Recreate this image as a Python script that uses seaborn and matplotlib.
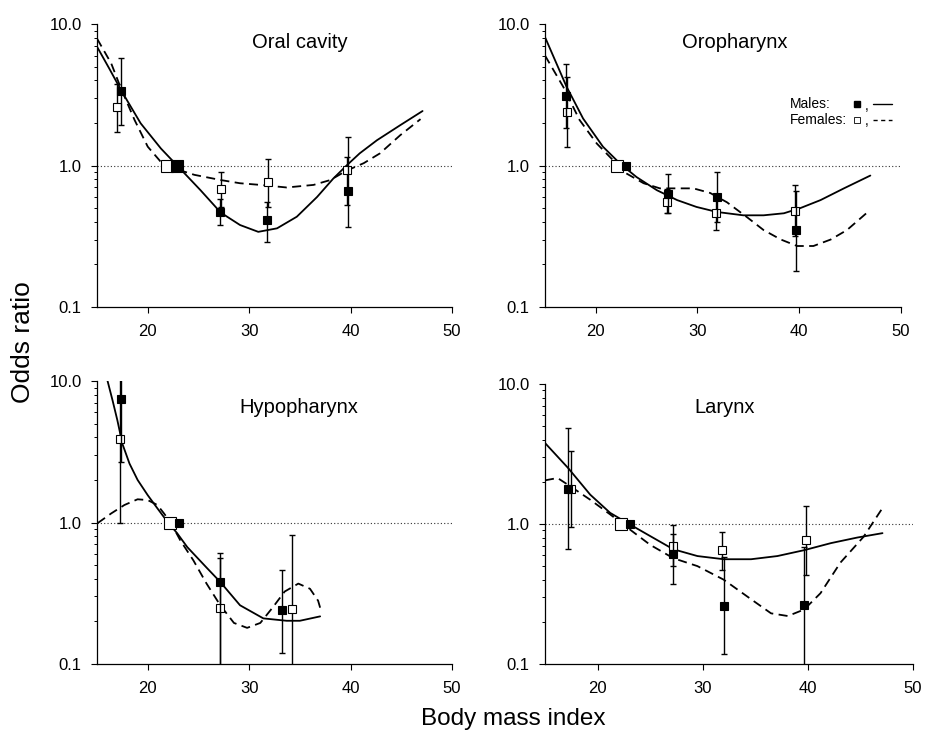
import numpy as np
import pandas as pd
import matplotlib.pyplot as plt
import matplotlib.ticker as mticker
import seaborn as sns

sns.set_style("ticks")
plt.rcParams['font.family'] = ['Liberation Sans', 'DejaVu Sans']
plt.rcParams.update({'text.color': 'black', 'axes.edgecolor': 'black',
                     'xtick.color': 'black', 'ytick.color': 'black',
                     'axes.labelcolor': 'black'})

# ---- Oral cavity ----
oral_m_bmi = [17.4, 27.1, 31.8, 39.7]
oral_m_or = [3.38, 0.47, 0.41, 0.66]
oral_m_lo = [1.93, 0.38, 0.29, 0.37]
oral_m_hi = [5.8, 0.58, 0.55, 1.6]
oral_f_bmi = [17.0, 27.2, 31.9, 39.6]
oral_f_or = [2.58, 0.68, 0.76, 0.93]
oral_f_lo = [1.72, 0.51, 0.51, 0.53]
oral_f_hi = [3.8, 0.90, 1.11, 1.15]
oral_ref = [22.85, 21.9]
oral_cm_bmi = [15.0, 16.2, 17.4, 19.3, 21.3, 22.9, 25.2, 27.2, 29.1, 30.9, 32.75, 34.7, 36.7, 38.3, 39.6, 40.9, 42.6, 44.9, 47.1]
oral_cm_or = [6.92, 4.86, 3.38, 1.99, 1.32, 1.0, 0.67, 0.465, 0.38, 0.34, 0.36, 0.435, 0.60, 0.81, 1.0, 1.22, 1.51, 1.93, 2.43]
oral_cf_bmi = [15.0, 16.4, 17.3, 18.7, 20.0, 21.3, 22.6, 24.6, 27.2, 29.1, 31.1, 33.7, 36.35, 38.0, 39.6, 41.3, 42.9, 44.9, 46.9]
oral_cf_or = [7.9, 5.27, 3.6, 2.10, 1.36, 1.06, 0.955, 0.86, 0.79, 0.75, 0.73, 0.70, 0.73, 0.79, 0.92, 1.04, 1.22, 1.64, 2.13]

# ---- Oropharynx ----
oro_m_bmi = [17.1, 27.1, 31.9, 39.7]
oro_m_or = [3.10, 0.63, 0.60, 0.35]
oro_m_lo = [1.83, 0.46, 0.40, 0.18]
oro_m_hi = [5.2, 0.87, 0.90, 0.66]
oro_f_bmi = [17.2, 27.0, 31.8, 39.6]
oro_f_or = [2.38, 0.55, 0.46, 0.48]
oro_f_lo = [1.36, 0.46, 0.35, 0.32]
oro_f_hi = [4.2, 0.68, 0.59, 0.73]
oro_ref = [22.96, 22.1]
oro_cm_bmi = [15.0, 17.1, 18.75, 20.7, 22.4, 24.0, 26.0, 28.0, 29.9, 31.9, 34.5, 36.5, 38.5, 40.1, 42.1, 44.4, 47.0]
oro_cm_or = [8.1, 3.64, 2.15, 1.36, 1.03, 0.83, 0.67, 0.57, 0.51, 0.47, 0.445, 0.445, 0.46, 0.50, 0.57, 0.69, 0.85]
oro_cf_bmi = [15.0, 16.8, 18.4, 20.1, 21.7, 23.0, 24.7, 26.3, 28.0, 29.6, 31.25, 32.9, 34.9, 36.5, 38.2, 39.8, 41.4, 43.1, 44.7, 46.9]
oro_cf_or = [6.0, 3.6, 2.1, 1.43, 1.09, 0.88, 0.75, 0.69, 0.69, 0.69, 0.64, 0.55, 0.43, 0.35, 0.30, 0.27, 0.27, 0.30, 0.35, 0.48]

# ---- Hypopharynx ----
hypo_m_bmi = [17.4, 27.15, 33.2]
hypo_m_or = [7.5, 0.38, 0.24]
hypo_m_lo = [2.7, 0.05, 0.12]
hypo_m_hi = [15.0, 0.61, 0.46]
hypo_f_bmi = [17.25, 27.15, 34.2]
hypo_f_or = [3.9, 0.25, 0.245]
hypo_f_lo = [1.0, 0.05, 0.05]
hypo_f_hi = [15.0, 0.56, 0.81]
hypo_ref = [23.1, 22.2]
hypo_cm_bmi = [15.8, 16.04, 16.53, 17.0, 17.5, 18.2, 19.0, 20.0, 20.95, 21.95, 22.9, 23.9, 25.8, 27.15, 29.1, 31.4, 33.7, 35.0, 37.0]
hypo_cm_or = [12.5, 10.0, 7.3, 5.3, 3.6, 2.61, 2.0, 1.56, 1.26, 1.01, 0.84, 0.67, 0.48, 0.38, 0.26, 0.21, 0.202, 0.202, 0.217]
hypo_cf_bmi = [15.06, 16.4, 17.7, 19.0, 20.0, 20.95, 21.6, 22.3, 23.2, 24.5, 25.8, 27.15, 28.5, 29.8, 31.1, 32.4, 33.5, 34.85, 36.0, 36.8, 37.0]
hypo_cf_or = [0.99, 1.16, 1.33, 1.46, 1.44, 1.33, 1.16, 0.99, 0.75, 0.54, 0.37, 0.26, 0.195, 0.18, 0.195, 0.255, 0.325, 0.37, 0.34, 0.28, 0.25]

# ---- Larynx ----
lar_m_bmi = [17.2, 27.2, 32.0, 39.65]
lar_m_or = [1.79, 0.61, 0.26, 0.265]
lar_m_lo = [0.66, 0.375, 0.118, 0.05]
lar_m_hi = [4.85, 0.85, 0.58, 0.69]
lar_f_bmi = [17.5, 27.2, 31.8, 39.8]
lar_f_or = [1.79, 0.70, 0.65, 0.77]
lar_f_lo = [0.95, 0.50, 0.47, 0.43]
lar_f_hi = [3.3, 0.99, 0.88, 1.35]
lar_ref = [23.1, 22.2]
lar_cm_bmi = [15.0, 17.2, 19.3, 21.2, 23.1, 25.0, 27.2, 29.5, 32.0, 34.6, 37.1, 39.65, 42.2, 44.7, 47.1]
lar_cm_or = [3.79, 2.51, 1.62, 1.20, 0.99, 0.82, 0.66, 0.59, 0.56, 0.56, 0.59, 0.65, 0.73, 0.80, 0.86]
lar_cf_bmi = [15.0, 16.2, 17.4, 19.3, 21.2, 23.1, 25.0, 27.2, 29.5, 32.0, 34.6, 36.5, 38.1, 39.65, 41.2, 43.1, 45.3, 47.1]
lar_cf_or = [2.05, 2.13, 1.86, 1.49, 1.17, 0.91, 0.71, 0.57, 0.50, 0.40, 0.29, 0.23, 0.22, 0.245, 0.32, 0.53, 0.81, 1.30]

x_ticks = [20, 30, 40, 50]
y_ticks = [0.1, 1.0, 10.0]
y_tick_labels = ["0.1", "1.0", "10.0"]

panels = [
    dict(title="Oral cavity", tpos=(35.0, 7.45), rect=[0.1039, 0.580, 0.380, 0.387],
         m=(oral_m_bmi, oral_m_or, oral_m_lo, oral_m_hi), f=(oral_f_bmi, oral_f_or, oral_f_lo, oral_f_hi),
         ref=oral_ref, ref_m_big=True,
         cm=(oral_cm_bmi, oral_cm_or), cf=(oral_cf_bmi, oral_cf_or)),
    dict(title="Oropharynx", tpos=(33.7, 7.45), rect=[0.5835, 0.580, 0.381, 0.387],
         m=(oro_m_bmi, oro_m_or, oro_m_lo, oro_m_hi), f=(oro_f_bmi, oro_f_or, oro_f_lo, oro_f_hi),
         ref=oro_ref, ref_m_big=False,
         cm=(oro_cm_bmi, oro_cm_or), cf=(oro_cf_bmi, oro_cf_or)),
    dict(title="Hypopharynx", tpos=(34.9, 6.46), rect=[0.1039, 0.0917, 0.380, 0.387],
         m=(hypo_m_bmi, hypo_m_or, hypo_m_lo, hypo_m_hi), f=(hypo_f_bmi, hypo_f_or, hypo_f_lo, hypo_f_hi),
         ref=hypo_ref, ref_m_big=False,
         cm=(hypo_cm_bmi, hypo_cm_or), cf=(hypo_cf_bmi, hypo_cf_or)),
    dict(title="Larynx", tpos=(32.1, 6.74), rect=[0.5835, 0.0917, 0.394, 0.383],
         m=(lar_m_bmi, lar_m_or, lar_m_lo, lar_m_hi), f=(lar_f_bmi, lar_f_or, lar_f_lo, lar_f_hi),
         ref=lar_ref, ref_m_big=False,
         cm=(lar_cm_bmi, lar_cm_or), cf=(lar_cf_bmi, lar_cf_or)),
]

fig = plt.figure(figsize=(9.34, 7.31), dpi=100)

def draw_points(ax, pts, face, z):
    bmi, orr, lo, hi = [np.array(v) for v in pts]
    yerr = [orr - lo, hi - orr]
    ax.errorbar(bmi, orr, yerr=yerr, fmt='none', ecolor='black', elinewidth=1.0,
                capsize=2.5, capthick=1.0, zorder=z)
    ax.plot(bmi, orr, 's', ms=5.5, mfc=face, mec='black', mew=0.8, zorder=z + 1)

for p in panels:
    ax = fig.add_axes(p["rect"])
    ax.set_yscale('log')
    ax.set_xlim(15, 50)
    ax.set_ylim(0.1, 10)
    ax.axhline(1.0, color='#333333', lw=0.8, ls=(0, (1, 2)), zorder=1)

    curves = pd.concat([
        pd.DataFrame({"bmi": p["cf"][0], "or": p["cf"][1], "sex": "Females"}),
        pd.DataFrame({"bmi": p["cm"][0], "or": p["cm"][1], "sex": "Males"}),
    ])
    sns.lineplot(data=curves, x="bmi", y="or", style="sex", units="sex", estimator=None,
                 dashes={"Males": "", "Females": (5, 3)}, color="black", lw=1.3,
                 legend=False, ax=ax, zorder=2)

    draw_points(ax, p["f"], 'white', 3)
    draw_points(ax, p["m"], 'black', 5)
    ax.plot([p["ref"][1]], [1.0], 's', ms=8, mfc='white', mec='black', mew=0.8, zorder=7)
    ax.plot([p["ref"][0]], [1.0], 's', ms=8 if p["ref_m_big"] else 5.5,
            mfc='black', mec='black', mew=0.8, zorder=8)

    ax.text(p["tpos"][0], p["tpos"][1], p["title"], ha='center', va='center', fontsize=14.5)

    sns.despine(ax=ax)
    ax.set_xticks(x_ticks)
    ax.set_yticks(y_ticks)
    ax.yaxis.set_major_formatter(mticker.FixedFormatter(y_tick_labels))
    ax.yaxis.set_minor_locator(mticker.LogLocator(base=10, subs=np.arange(2, 10)))
    ax.yaxis.set_minor_formatter(mticker.NullFormatter())
    ax.tick_params(axis='both', which='major', direction='out', length=4, width=0.8,
                   labelsize=12, pad=7)
    ax.tick_params(axis='x', which='major', pad=8)
    ax.tick_params(axis='y', which='minor', direction='out', length=2.2, width=0.7)
    ax.tick_params(axis='x', which='minor', bottom=False)
    ax.set_xlabel("")
    ax.set_ylabel("")
    for s in ax.spines.values():
        s.set_linewidth(0.9)

    if p["title"] == "Oropharynx":
        ax.text(0.688, 0.717, "Males:", transform=ax.transAxes, fontsize=10, va='center')
        ax.text(0.688, 0.661, "Females:", transform=ax.transAxes, fontsize=10, va='center')
        ax.plot([0.876], [0.717], 's', ms=4, mfc='black', mec='black', transform=ax.transAxes, clip_on=False)
        ax.plot([0.876], [0.661], 's', ms=4, mfc='white', mec='black', mew=0.6, transform=ax.transAxes, clip_on=False)
        ax.text(0.898, 0.712, ",", transform=ax.transAxes, fontsize=10, va='center')
        ax.text(0.898, 0.656, ",", transform=ax.transAxes, fontsize=10, va='center')
        ax.plot([0.921, 0.975], [0.717, 0.717], color='black', lw=1.0, transform=ax.transAxes, clip_on=False)
        ax.plot([0.921, 0.975], [0.661, 0.661], color='black', lw=1.0, ls=(0, (3, 2.5)),
                transform=ax.transAxes, clip_on=False)

fig.text(0.550, 0.016, "Body mass index", ha='center', va='center', fontsize=17.5)
fig.text(0.025, 0.532, "Odds ratio", ha='center', va='center', rotation=90, fontsize=19)

fig.savefig("out.png", dpi=100)
